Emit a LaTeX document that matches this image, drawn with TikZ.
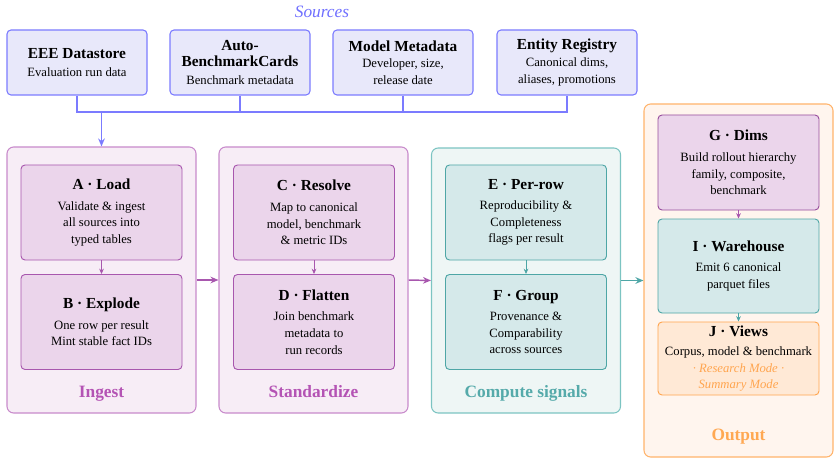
\documentclass[tikz,border=0pt]{standalone}
\usepackage{fontspec}
\setmainfont{Liberation Serif}
\usetikzlibrary{arrows.meta}
\definecolor{srcF}{HTML}{E8E8FA}
\definecolor{srcB}{HTML}{7B7BFF}
\definecolor{srcT}{HTML}{6F6FFF}
\definecolor{pkGF}{HTML}{F7EDF6}
\definecolor{pkGB}{HTML}{C88ACB}
\definecolor{pkF}{HTML}{EBD5EB}
\definecolor{pkB}{HTML}{A857AE}
\definecolor{pkT}{HTML}{B453B4}
\definecolor{tlGF}{HTML}{EEF6F5}
\definecolor{tlGB}{HTML}{7CC4C2}
\definecolor{tlF}{HTML}{D5E9EA}
\definecolor{tlB}{HTML}{4EA6A6}
\definecolor{tlT}{HTML}{55AAAA}
\definecolor{orGF}{HTML}{FFF5EE}
\definecolor{orGB}{HTML}{FFB36B}
\definecolor{orF}{HTML}{FFE9D6}
\definecolor{orB}{HTML}{FFA54F}
\definecolor{orT}{HTML}{FFA852}
\newcommand{\ttl}[1]{{\fontsize{11.5}{14}\selectfont\bfseries #1}}
\tikzset{
  base/.style={rounded corners=3pt, align=center, inner sep=0pt, font=\fontsize{9.5}{12.4}\selectfont},
  src/.style={base, draw=srcB, fill=srcF, line width=0.8pt, minimum width=105pt, minimum height=48.75pt},
  grp/.style={rounded corners=5pt, line width=0.8pt, minimum width=141.75pt, minimum height=199.5pt},
  pkbox/.style={base, draw=pkB, fill=pkF, line width=0.7pt, minimum width=120.75pt, minimum height=71.25pt},
  tlbox/.style={base, draw=tlB, fill=tlF, line width=0.7pt, minimum width=120.75pt, minimum height=71.25pt},
  glabel/.style={anchor=base, font=\fontsize{13}{15}\selectfont\bfseries},
  arr/.style={line width=1.1pt, -{Stealth[length=6pt,width=5pt]}},
  sarr/.style={line width=0.6pt, -{Stealth[length=4pt,width=3.5pt]}},
}
\begin{document}
\begin{tikzpicture}[x=0.75pt,y=-0.75pt]
\useasboundingbox (0,0) rectangle (837,463);
% Sources
\node[font=\fontsize{13}{15}\selectfont\itshape, text=srcT] (srclab) at (322,12) {Sources};
\node[src] (s1) at (77,62.5) {\ttl{EEE Datastore}\\[1pt] Evaluation run data};
\node[src] (s2) at (240,62.5) {\ttl{Auto-}\\ \ttl{BenchmarkCards}\\[1pt] Benchmark metadata};
\node[src] (s3) at (403,62.5) {\ttl{Model Metadata}\\ Developer, size,\\ release date};
\node[src] (s4) at (567,62.5) {\ttl{Entity Registry}\\ Canonical dims,\\ aliases, promotions};
% groups
\node[grp, draw=pkGB, fill=pkGF] (ingest) at (101.5,280) {};
\node[grp, draw=pkGB, fill=pkGF] (std) at (313.5,280) {};
\node[grp, draw=tlGB, fill=tlGF, minimum height=198.75pt] (cmp) at (526,280.5) {};
\node[grp, draw=orGB, fill=orGF, minimum height=264.75pt] (out) at (738.5,280.5) {};
\node[glabel, text=pkT] (ingestlab) at (101.5,397.5) {Ingest};
\node[glabel, text=pkT] (stdlab) at (313.5,397.5) {Standardize};
\node[glabel, text=tlT] (cmplab) at (526,397.5) {Compute signals};
\node[glabel, text=orT] (outlab) at (738.5,440) {Output};
% inner boxes
\node[pkbox] (A) at (101.5,212.5) {\ttl{A · Load}\\[3pt] Validate \& ingest\\ all sources into\\ typed tables};
\node[pkbox] (B) at (101.5,322) {\ttl{B · Explode}\\[3pt] One row per result\\ Mint stable fact IDs};
\node[pkbox] (C) at (314,212.5) {\ttl{C · Resolve}\\[3pt] Map to canonical\\ model, benchmark\\ \& metric IDs};
\node[pkbox] (D) at (314,322) {\ttl{D · Flatten}\\[3pt] Join benchmark\\ metadata to\\ run records};
\node[tlbox] (E) at (526,212.5) {\ttl{E · Per-row}\\[3pt] Reproducibility \&\\ Completeness\\ flags per result};
\node[tlbox] (F) at (526,322) {\ttl{F · Group}\\[3pt] Provenance \&\\ Comparability\\ across sources};
\node[pkbox, draw=pkB!90!black] (G) at (738.5,162.5) {\ttl{G · Dims}\\[3pt] Build rollout hierarchy\\ family, composite,\\ benchmark};
\node[tlbox, minimum height=70.5pt] (I) at (738.5,266) {\ttl{I · Warehouse}\\[3pt] Emit 6 canonical\\ parquet files};
\node[base, draw=orB, fill=orF, line width=0.7pt, minimum width=120.75pt, minimum height=54.75pt] (J) at (738.5,358.5) {\ttl{J · Views}\\[2pt] Corpus, model \& benchmark\\ \textcolor{orB}{\itshape · Research Mode ·}\\ \textcolor{orB}{\itshape Summary Mode}};
% source bus
\coordinate (busL) at (77,112);
\coordinate (busR) at (567,112);
\coordinate (busA) at (101.5,112);
\draw[srcB, line width=0.9pt] (s1.south) -- (busL) -- (busR) -- (s4.south);
\draw[srcB, line width=0.9pt] (s2.south) -- (s2.south |- busL);
\draw[srcB, line width=0.9pt] (s3.south) -- (s3.south |- busL);
\draw[arr, srcB] (busA) -- (ingest.north);
% group arrows
\draw[arr, pkB] (ingest.east) -- (std.west);
\draw[arr, pkB] (std.east) -- (cmp.west);
\draw[arr, tlB] (cmp.east) -- (out.west);
% inner arrows
\draw[sarr, pkB] (A.south) -- (B.north);
\draw[sarr, pkB] (C.south) -- (D.north);
\draw[sarr, tlB] (E.south) -- (F.north);
\draw[sarr, pkB] (G.south) -- (I.north);
\draw[sarr, tlB] (I.south) -- (J.north);
\end{tikzpicture}
\end{document}
